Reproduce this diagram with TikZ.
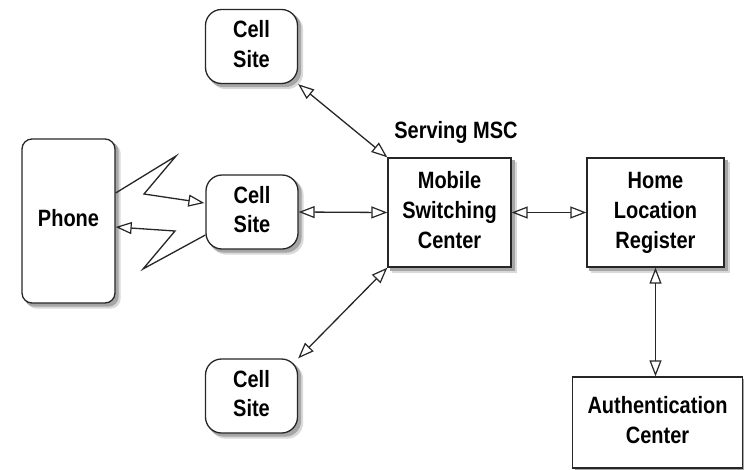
\documentclass[tikz,border=0pt]{standalone}
\usepackage{fontspec}
\setmainfont{Liberation Sans}
\usepackage{graphicx}
\usetikzlibrary{arrows.meta,calc,backgrounds}
\newcommand{\lbl}[1]{\scalebox{1}[1.18]{\fontsize{20}{25.4}\selectfont\bfseries\begin{tabular}{@{}c@{}}#1\end{tabular}}}
\newcommand{\shadowof}[2]{%
  \fill[black!15, rounded corners=#2] ([shift={(5,5)}]#1.north west) rectangle ([shift={(5,5)}]#1.south east);
  \fill[black!35, rounded corners=#2] ([shift={(3,3)}]#1.north west) rectangle ([shift={(3,3)}]#1.south east);}
\begin{document}
\begin{tikzpicture}[x=1pt,y=-1pt,
  every node/.style={align=center, inner sep=0pt},
  box/.style={draw=black!85, line width=1.3pt, fill=white},
  cellbox/.style={box, rounded corners=16pt, minimum width=92pt, minimum height=74pt},
  phonebox/.style={box, rounded corners=10pt},
  sqbox/.style={box},
  tip/.tip={Triangle[open,length=16pt,width=12pt,line width=1.2pt]},
  conn/.style={draw=black!85, line width=1.3pt, tip-tip},
  bolt/.style={draw=black!85, line width=1.3pt, -tip, line join=miter}
]
\useasboundingbox (0,0) rectangle (744,469);
\node[phonebox, minimum width=93pt, minimum height=164pt] (phone) at (68.5,221) {\lbl{Phone}};
\node[cellbox] (cell1) at (251.5,46.5) {\lbl{Cell\\Site}};
\node[cellbox] (cell2) at (252,212) {\lbl{Cell\\Site}};
\node[cellbox] (cell3) at (251.5,396) {\lbl{Cell\\Site}};
\node[sqbox, minimum width=123pt, minimum height=109pt] (msc) at (449.5,212.5) {\lbl{Mobile\\Switching\\Center}};
\node[sqbox, minimum width=137pt, minimum height=109pt] (hlr) at (655.5,212.5) {\lbl{Home\\Location\\Register}};
\node[sqbox, minimum width=170pt, minimum height=91pt] (auth) at (657.5,422.5) {\lbl{Authentication\\Center}};
\node (serv) at (456,133) {\lbl{Serving MSC}};

\begin{scope}[on background layer]
\shadowof{phone}{10pt}
\shadowof{cell1}{16pt}
\shadowof{cell2}{16pt}
\shadowof{cell3}{16pt}
\shadowof{msc}{0pt}
\shadowof{hlr}{0pt}
\shadowof{auth}{0pt}
\end{scope}

\draw[conn] (cell1.south east) -- (msc.north west);
\draw[conn] (cell2.east) -- (msc.west);
\draw[conn] (cell3.north east) -- (msc.south west);
\draw[conn] (msc.east) -- (hlr.west);
\draw[conn] (hlr.south) -- (hlr.south |- auth.north);

\draw[bolt] ([yshift=28pt]phone.east) -- (176,156) -- (144,194) -- ([yshift=9pt,xshift=-1pt]cell2.west);
\draw[bolt] ([yshift=-23pt]cell2.west) -- (143,269) -- (175,231) -- ([yshift=-6pt]phone.east);
\end{tikzpicture}
\end{document}
